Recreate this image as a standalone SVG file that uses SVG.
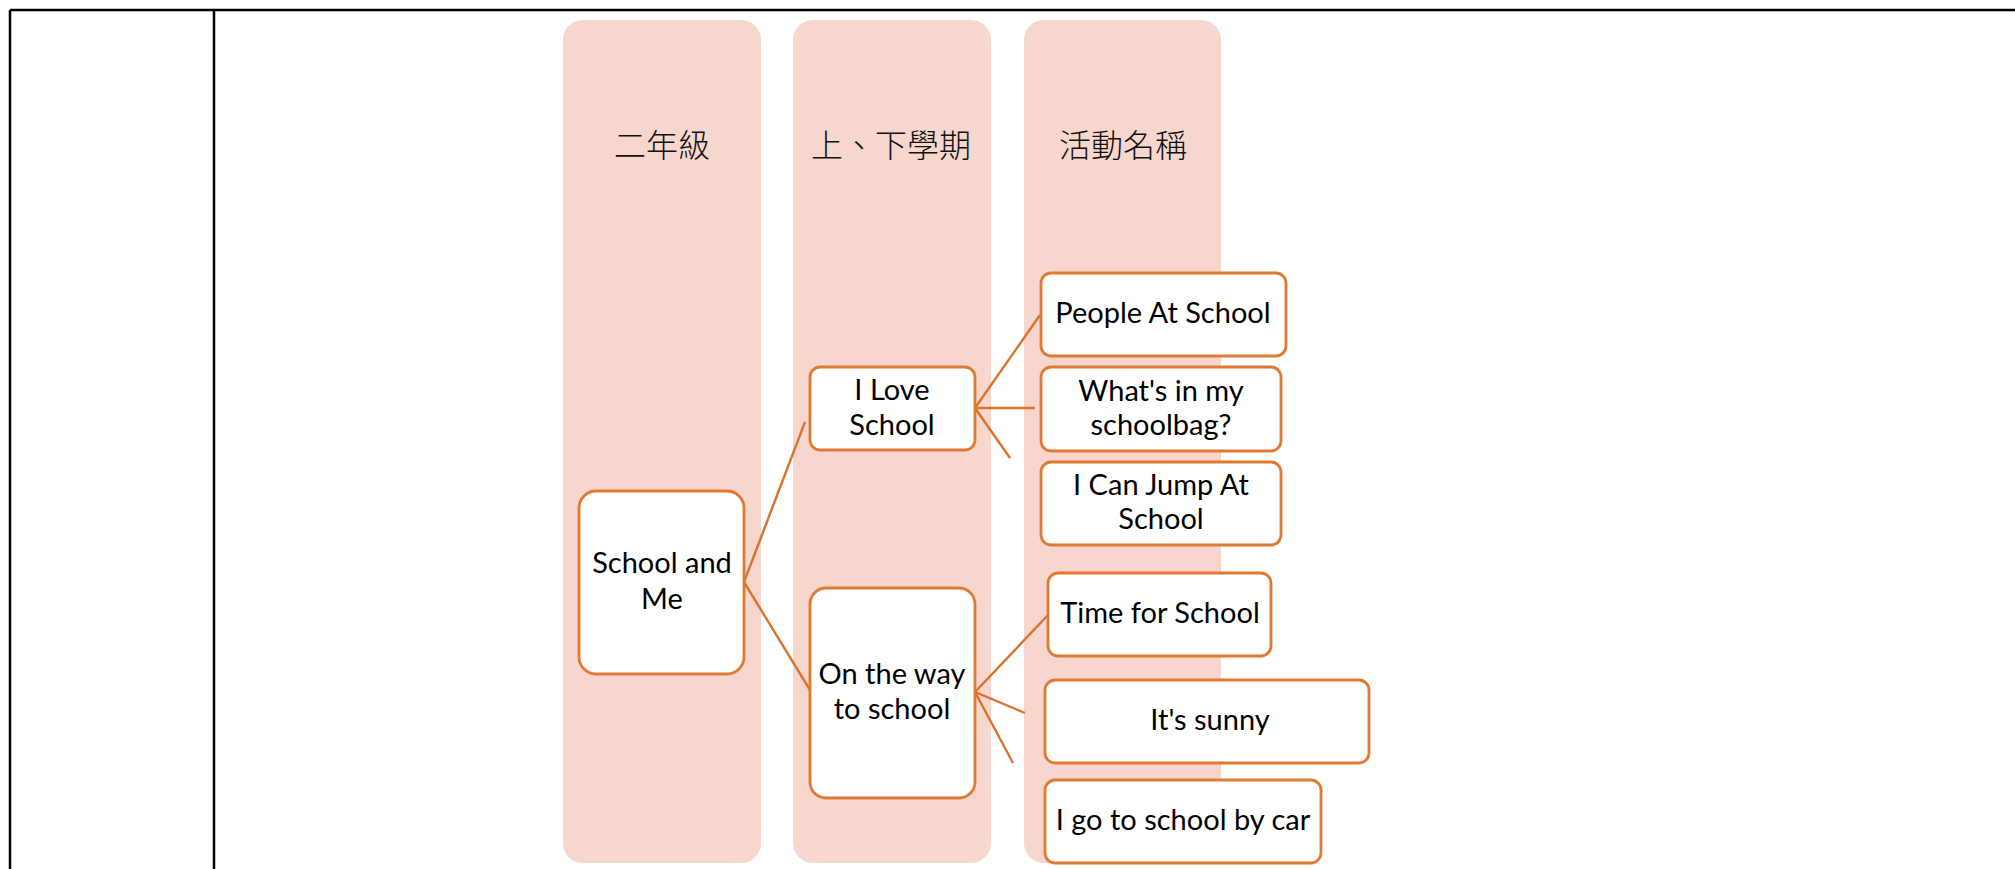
<svg xmlns="http://www.w3.org/2000/svg" width="2015" height="869" viewBox="0 0 2015 869">
<style>
.col{fill:#F7D7CD;}
.hdr{font-family:"Noto Sans CJK TC","Noto Sans CJK SC",sans-serif;font-size:32px;font-weight:300;fill:#111;text-anchor:middle;}
.box{fill:#fff;stroke:#E07A33;stroke-width:2.8;}
.lbl{font-family:Lato,"Open Sans",sans-serif;font-size:29px;fill:#000;text-anchor:middle;}
.tbl{stroke:#000;stroke-width:2.5;fill:none;}
.con{stroke:#D9732E;stroke-width:2.4;fill:none;}
</style>
<rect width="2015" height="869" fill="#fff"/>
<g id="table">
<line class="tbl" x1="10" y1="10" x2="2015" y2="10"/>
<line class="tbl" x1="10" y1="10" x2="10" y2="869"/>
<line class="tbl" x1="214" y1="10" x2="214" y2="869"/>
</g>
<g id="columns">
<g id="col-grade"><rect class="col" x="563" y="20" width="198" height="843" rx="20"/><text class="hdr" x="662" y="157">二年級</text></g>
<g id="col-term"><rect class="col" x="793" y="20" width="198" height="843" rx="20"/><text class="hdr" x="891" y="157">上、下學期</text></g>
<g id="col-activity"><rect class="col" x="1024" y="20" width="197" height="843" rx="20"/><text class="hdr" x="1123" y="157">活動名稱</text></g>
</g>
<g id="connectors">
<line class="con" x1="744" y1="582" x2="805" y2="422"/>
<line class="con" x1="744" y1="582" x2="810" y2="690"/>
<line class="con" x1="975" y1="408" x2="1040" y2="315"/>
<line class="con" x1="975" y1="408" x2="1035" y2="408"/>
<line class="con" x1="975" y1="408" x2="1010" y2="458"/>
<line class="con" x1="975" y1="692" x2="1048" y2="615"/>
<line class="con" x1="975" y1="692" x2="1025" y2="713"/>
<line class="con" x1="975" y1="692" x2="1013" y2="763"/>
</g>
<g id="school-and-me"><rect class="box" x="579" y="491" width="165" height="183" rx="17"/><text class="lbl" x="662" y="573">School and</text><text class="lbl" x="662" y="609">Me</text></g>
<g id="i-love-school"><rect class="box" x="810" y="367" width="165" height="83" rx="10"/><text class="lbl" x="892" y="400">I Love</text><text class="lbl" x="892" y="435">School</text></g>
<g id="on-the-way"><rect class="box" x="810" y="588" width="165" height="210" rx="16"/><text class="lbl" x="892" y="684">On the way</text><text class="lbl" x="892" y="719">to school</text></g>
<g id="people-at-school"><rect class="box" x="1041" y="273" width="245" height="83" rx="10"/><text class="lbl" x="1163" y="323">People At School</text></g>
<g id="whats-in-my-schoolbag"><rect class="box" x="1041" y="367" width="240" height="84" rx="10"/><text class="lbl" x="1161" y="401">What's in my</text><text class="lbl" x="1161" y="435">schoolbag?</text></g>
<g id="i-can-jump"><rect class="box" x="1041" y="462" width="240" height="83" rx="10"/><text class="lbl" x="1161" y="495">I Can Jump At</text><text class="lbl" x="1161" y="529">School</text></g>
<g id="time-for-school"><rect class="box" x="1048" y="573" width="223" height="83" rx="10"/><text class="lbl" x="1160" y="623">Time for School</text></g>
<g id="its-sunny"><rect class="box" x="1045" y="680" width="324" height="83" rx="10"/><text class="lbl" x="1210" y="730">It's sunny</text></g>
<g id="go-by-car"><rect class="box" x="1045" y="780" width="276" height="83" rx="10"/><text class="lbl" x="1183" y="830">I go to school by car</text></g>
</svg>
